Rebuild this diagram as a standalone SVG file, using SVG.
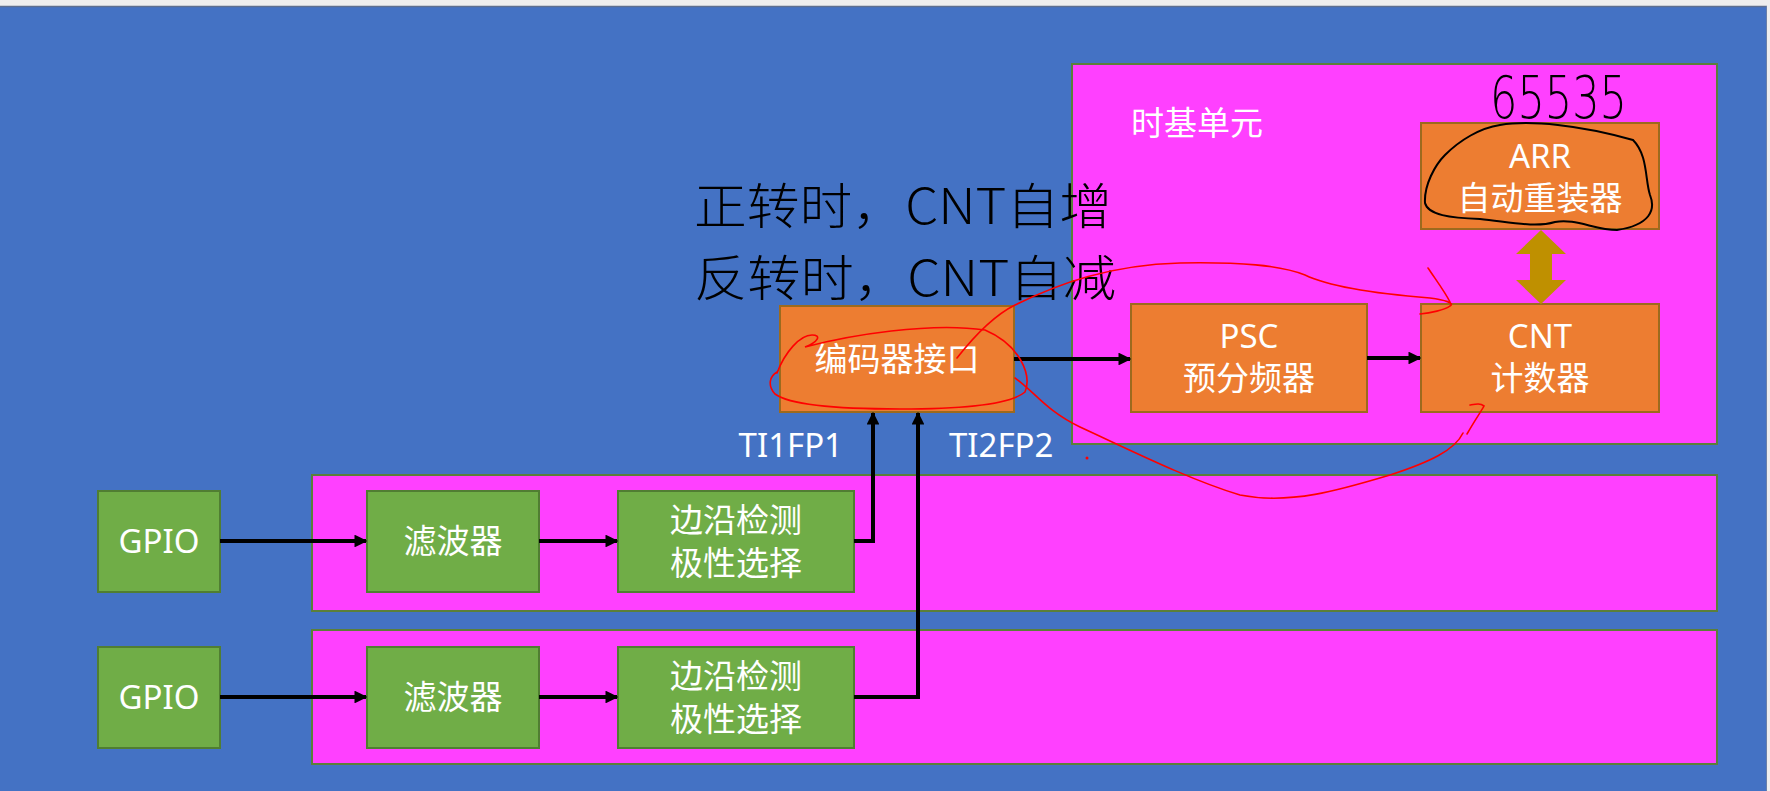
<svg xmlns="http://www.w3.org/2000/svg" width="1770" height="791" viewBox="0 0 1770 791">
<defs>
<style>
.zone{fill:#FF40FF;stroke:#5B7F3A;stroke-width:2}
.org{fill:#ED7D31;stroke:#9C6A1E;stroke-width:2}
.grn{fill:#70AD47;stroke:#507E32;stroke-width:2}
.t{fill:#FFFFFF;font-family:"Noto Sans","Noto Sans CJK SC",sans-serif;font-size:33px;text-anchor:middle}
.tl{fill:#FFFFFF;font-family:"Noto Sans","Noto Sans CJK SC",sans-serif;font-size:33px}
.wire{fill:none;stroke:#000000;stroke-width:4}
.red{fill:none;stroke:#FF0000;stroke-width:1.6;stroke-linecap:round}
.ink{fill:none;stroke:#000000;stroke-width:2;stroke-linecap:round}
.hw{fill:#000000;font-family:"Noto Sans CJK SC",sans-serif;font-weight:200}
</style>
<marker id="ah" viewBox="0 0 10 10" refX="9" refY="5" markerWidth="3.2" markerHeight="3.2" orient="auto" markerUnits="strokeWidth">
<path d="M0,0 L10,5 L0,10 z" fill="#000000"/>
</marker>
</defs>
<rect x="0" y="0" width="1770" height="791" fill="#EEEEEE"/>
<rect x="0" y="6" width="1767" height="785" fill="#4472C4"/>
<line x1="0" y1="6.5" x2="1767" y2="6.5" stroke="#5E6F90" stroke-width="1.5"/>
<line x1="1766.5" y1="6" x2="1766.5" y2="791" stroke="#6A7FA8" stroke-width="1"/>

<g id="zone-timebase"><rect class="zone" x="1072" y="64" width="645" height="380"/>
<text class="tl" x="1131" y="135">时基单元</text></g>
<g id="zone-ch1"><rect class="zone" x="312" y="475" width="1405" height="136"/></g>
<g id="zone-ch2"><rect class="zone" x="312" y="630" width="1405" height="134"/></g>

<g id="arr"><rect class="org" x="1421" y="123" width="238" height="106"/>
<text class="t" x="1540" y="168">ARR</text><text class="t" x="1540" y="210">自动重装器</text></g>
<g id="psc"><rect class="org" x="1131" y="304" width="236" height="108"/>
<text class="t" x="1249" y="348">PSC</text><text class="t" x="1249" y="390">预分频器</text></g>
<g id="cnt"><rect class="org" x="1421" y="304" width="238" height="108"/>
<text class="t" x="1540" y="348">CNT</text><text class="t" x="1540" y="390">计数器</text></g>
<g id="encoder"><rect class="org" x="780" y="306" width="234" height="106"/>
<text class="t" x="897" y="371" font-size="34">编码器接口</text></g>

<g id="gpio1"><rect class="grn" x="98" y="491" width="122" height="101"/><text class="t" x="159" y="553" font-size="34">GPIO</text></g>
<g id="filter1"><rect class="grn" x="367" y="491" width="172" height="101"/><text class="t" x="453" y="553">滤波器</text></g>
<g id="edge1"><rect class="grn" x="618" y="491" width="236" height="101"/><text class="t" x="736" y="532">边沿检测</text><text class="t" x="736" y="575">极性选择</text></g>
<g id="gpio2"><rect class="grn" x="98" y="647" width="122" height="101"/><text class="t" x="159" y="709" font-size="34">GPIO</text></g>
<g id="filter2"><rect class="grn" x="367" y="647" width="172" height="101"/><text class="t" x="453" y="709">滤波器</text></g>
<g id="edge2"><rect class="grn" x="618" y="647" width="236" height="101"/><text class="t" x="736" y="688">边沿检测</text><text class="t" x="736" y="731">极性选择</text></g>

<g id="labels">
<text class="tl" x="843" y="457" text-anchor="end">TI1FP1</text>
<text class="tl" x="949" y="457">TI2FP2</text>
</g>

<g id="connectors">
<line class="wire" x1="220" y1="541" x2="366" y2="541" marker-end="url(#ah)"/>
<line class="wire" x1="539" y1="541" x2="617" y2="541" marker-end="url(#ah)"/>
<line class="wire" x1="220" y1="697" x2="366" y2="697" marker-end="url(#ah)"/>
<line class="wire" x1="539" y1="697" x2="617" y2="697" marker-end="url(#ah)"/>
<polyline class="wire" points="854,541 873,541 873,413" marker-end="url(#ah)"/>
<polyline class="wire" points="854,697 918,697 918,413" marker-end="url(#ah)"/>
<line class="wire" x1="1014" y1="359" x2="1130" y2="359" marker-end="url(#ah)"/>
<line class="wire" x1="1367" y1="358" x2="1420" y2="358" marker-end="url(#ah)"/>
<polygon points="1541,230 1566,254 1552,254 1552,280 1566,280 1541,304 1516,280 1530,280 1530,254 1516,254" fill="#BF9000"/>
</g>

<g id="annotations">
<text class="hw" x="694" y="224" font-size="49" textLength="418" lengthAdjust="spacingAndGlyphs">正转时，CNT自增</text>
<text class="hw" x="694" y="296" font-size="49" textLength="422" lengthAdjust="spacingAndGlyphs">反转时，CNT自减</text>
<text x="1490" y="118" font-family="DejaVu Sans, sans-serif" font-weight="200" font-size="58" fill="#000000" textLength="137" lengthAdjust="spacingAndGlyphs">65535</text>
<path class="ink" d="M1500,125 C1530,120 1580,125 1633,140 C1648,155 1645,180 1650,195 C1656,210 1650,225 1617,230 C1595,230 1575,218 1555,222 C1535,228 1510,222 1480,219 C1450,218 1428,215 1425,203 C1424,185 1435,165 1445,155 C1460,140 1480,128 1500,125 Z"/>
<path class="red" d="M777,373 C785,352 800,335 812,335 C822,335 818,342 805,347 C850,335 930,322 985,330 C1020,345 1032,375 1025,392 C1010,405 960,409 900,409 C840,409 790,405 775,394 C767,385 770,376 777,372"/>
<path class="red" d="M957,358 C975,335 995,315 1015,305 C1060,283 1110,265 1180,263 C1240,262 1280,265 1305,275 C1330,287 1380,294 1430,298 C1445,300 1455,303 1450,306 C1445,310 1430,313 1420,314"/>
<path class="red" d="M1428,268 C1436,280 1445,292 1450,302"/>
<path class="red" d="M1015,378 C1035,392 1045,410 1080,427 C1130,450 1190,480 1240,495 C1290,505 1340,490 1390,475 C1430,462 1455,450 1463,433"/>
<path class="red" d="M1467,434 C1475,420 1482,410 1484,406 C1480,403 1476,404 1470,405"/>
<circle cx="1087" cy="458" r="1.5" fill="#FF0000"/>
</g>
</svg>
